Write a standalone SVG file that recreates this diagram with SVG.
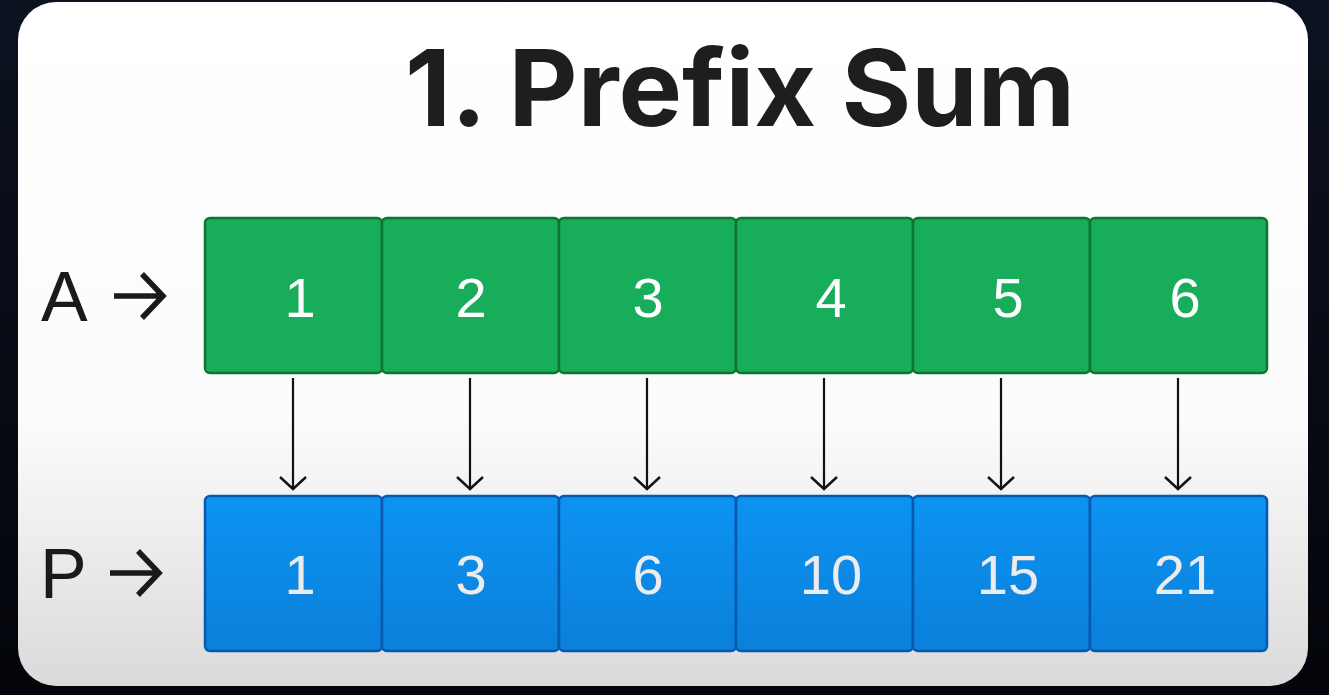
<svg xmlns="http://www.w3.org/2000/svg" width="1329" height="695" viewBox="0 0 1329 695">
<defs>
<linearGradient id="card" x1="0" y1="0" x2="0" y2="1">
<stop offset="0" stop-color="#ffffff"/>
<stop offset="0.62" stop-color="#fbfbfb"/>
<stop offset="1" stop-color="#dadada"/>
</linearGradient>
<linearGradient id="blue" x1="0" y1="0" x2="0" y2="1">
<stop offset="0" stop-color="#0d93f2"/>
<stop offset="1" stop-color="#0a80da"/>
</linearGradient>
<marker id="ah" viewBox="0 0 16 28" refX="14" refY="14" markerWidth="16" markerHeight="28" markerUnits="userSpaceOnUse" orient="auto">
<path d="M2,1 L14,14 L2,27" fill="none" stroke="#111" stroke-width="2.4"/>
</marker>
<linearGradient id="bg" x1="0" y1="0" x2="0" y2="1">
<stop offset="0" stop-color="#0c1220"/>
<stop offset="1" stop-color="#03050a"/>
</linearGradient>
</defs>
<style>
.ga{fill:#17ad5b;stroke:#0d7436;stroke-width:2.5}
.pb{fill:url(#blue);stroke:#0759b0;stroke-width:2.5}
.vw{font-family:"Liberation Sans",Arial,sans-serif;font-size:56px;text-anchor:middle;fill:#ffffff}
.vb{font-family:"Liberation Sans",Arial,sans-serif;font-size:56px;text-anchor:middle;fill:#ececec}
.lbl{font-family:"Liberation Sans",Arial,sans-serif;font-size:70px;fill:#1a1a1a}
.la{fill:none;stroke:#1a1a1a;stroke-width:5.5;stroke-linecap:butt}
.con{stroke:#111;stroke-width:2.2;fill:none}
</style>
<rect x="0" y="0" width="1329" height="695" fill="url(#bg)"/>
<rect x="18" y="2" width="1290" height="684" rx="38" fill="url(#card)"/>
<text id="title" x="740" y="126" font-family="Inter,Liberation Sans,Arial,sans-serif" font-weight="bold" font-size="106" text-anchor="middle" fill="#1e1e1e" textLength="670" lengthAdjust="spacingAndGlyphs">1. Prefix Sum</text>

<g id="labelA">
<text class="lbl" x="41" y="321">A</text>
<path class="la" d="M114,296 H162 M142,274 L163,296 L142,318"/>
</g>
<g id="labelP">
<text class="lbl" x="40" y="598">P</text>
<path class="la" d="M110,573 H158 M138,551 L159,573 L138,595"/>
</g>

<g id="A0"><rect class="ga" x="205" y="218" width="177" height="155" rx="5"/><text class="vw" x="300" y="317">1</text></g>
<g id="A1"><rect class="ga" x="382" y="218" width="177" height="155" rx="5"/><text class="vw" x="471" y="317">2</text></g>
<g id="A2"><rect class="ga" x="559" y="218" width="177" height="155" rx="5"/><text class="vw" x="648" y="317">3</text></g>
<g id="A3"><rect class="ga" x="736" y="218" width="177" height="155" rx="5"/><text class="vw" x="831" y="317">4</text></g>
<g id="A4"><rect class="ga" x="913" y="218" width="177" height="155" rx="5"/><text class="vw" x="1008" y="317">5</text></g>
<g id="A5"><rect class="ga" x="1090" y="218" width="177" height="155" rx="5"/><text class="vw" x="1185" y="317">6</text></g>

<g id="P0"><rect class="pb" x="205" y="496" width="177" height="155" rx="5"/><text class="vb" x="300" y="594">1</text></g>
<g id="P1"><rect class="pb" x="382" y="496" width="177" height="155" rx="5"/><text class="vb" x="471" y="594">3</text></g>
<g id="P2"><rect class="pb" x="559" y="496" width="177" height="155" rx="5"/><text class="vb" x="648" y="594">6</text></g>
<g id="P3"><rect class="pb" x="736" y="496" width="177" height="155" rx="5"/><text class="vb" x="831" y="594">10</text></g>
<g id="P4"><rect class="pb" x="913" y="496" width="177" height="155" rx="5"/><text class="vb" x="1008" y="594">15</text></g>
<g id="P5"><rect class="pb" x="1090" y="496" width="177" height="155" rx="5"/><text class="vb" x="1185" y="594">21</text></g>

<g id="connectors">
<line class="con" x1="293" y1="378" x2="293" y2="489" marker-end="url(#ah)"/>
<line class="con" x1="470" y1="378" x2="470" y2="489" marker-end="url(#ah)"/>
<line class="con" x1="647" y1="378" x2="647" y2="489" marker-end="url(#ah)"/>
<line class="con" x1="824" y1="378" x2="824" y2="489" marker-end="url(#ah)"/>
<line class="con" x1="1001" y1="378" x2="1001" y2="489" marker-end="url(#ah)"/>
<line class="con" x1="1178" y1="378" x2="1178" y2="489" marker-end="url(#ah)"/>
</g>
</svg>
